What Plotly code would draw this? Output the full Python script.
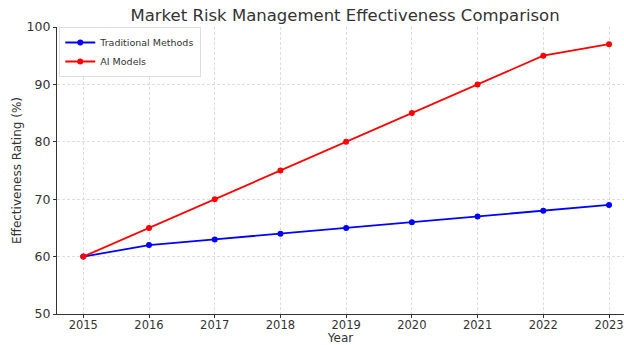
import plotly.graph_objects as go

years = [2015, 2016, 2017, 2018, 2019, 2020, 2021, 2022, 2023]
traditional = [60, 62, 63, 64, 65, 66, 67, 68, 69]
ai_models = [60, 65, 70, 75, 80, 85, 90, 95, 97]

font = "DejaVu Sans"
fig = go.Figure()
fig.add_trace(go.Scatter(x=years, y=traditional, mode="lines+markers", name="Traditional Methods",
                         line=dict(color="#0000ff", width=1.8), marker=dict(color="#0000ff", size=6)))
fig.add_trace(go.Scatter(x=years, y=ai_models, mode="lines+markers", name="AI Models",
                         line=dict(color="#ff0000", width=1.8), marker=dict(color="#ff0000", size=6)))

fig.update_layout(
    width=624, height=345,
    margin=dict(l=57, r=0, t=27, b=31),
    paper_bgcolor="white", plot_bgcolor="white",
    font=dict(family=font, color="#333333", size=12),
    title=dict(text="Market Risk Management Effectiveness Comparison", x=0.553, xanchor="center",
               y=0.955, yanchor="middle", font=dict(size=16.5, color="#333333")),
    showlegend=True,
    legend=dict(x=0.004, y=1.0, xanchor="left", yanchor="top", bgcolor="white",
                bordercolor="#dddddd", borderwidth=1, font=dict(size=9.5, color="#333333"),
                itemwidth=30, tracegroupgap=0),
    xaxis=dict(range=[2014.6, 2023.228], tickmode="array", tickvals=years,
               ticktext=[str(y) for y in years], showline=True, linecolor="#333333", linewidth=1.2,
               ticks="outside", ticklen=3, tickcolor="#333333", showgrid=True, gridcolor="#dddddd",
               griddash="3px,2px", gridwidth=1, zeroline=False, ticklabelstandoff=-3,
               title=dict(text="Year", standoff=4, font=dict(size=12)), tickfont=dict(size=11.5)),
    yaxis=dict(range=[50, 100], tickvals=[50, 60, 70, 80, 90, 100], showline=True,
               linecolor="#333333", linewidth=1.2, ticks="outside", ticklen=3, tickcolor="#333333",
               showgrid=True, gridcolor="#dddddd", griddash="3px,2px", gridwidth=1, zeroline=False,
               ticklabelstandoff=0,
               title=dict(text="Effectiveness Rating (%)", standoff=2, font=dict(size=12)),
               tickfont=dict(size=12.5)),
)
fig.write_html("out.html")
